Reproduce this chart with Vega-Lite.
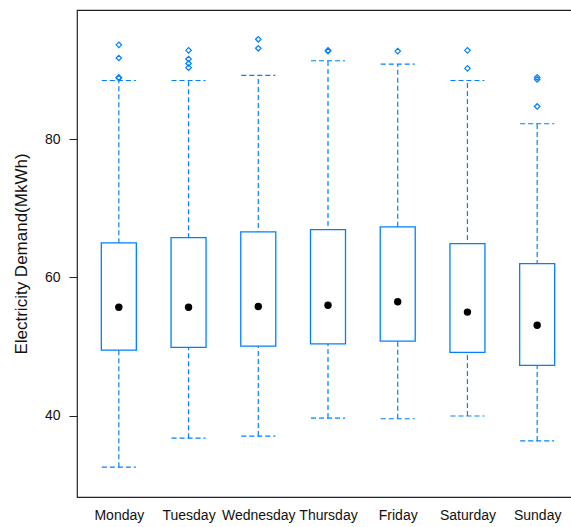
{
  "$schema": "https://vega.github.io/schema/vega-lite/v6.json",
  "autosize": "none",
  "width": 502,
  "height": 487,
  "padding": {"left": 77, "top": 10, "right": 0, "bottom": 30},
  "background": "white",
  "config": {
    "view": {"stroke": "#222", "strokeWidth": 1.2},
    "font": "Liberation Sans"
  },
  "datasets": {
    "stats": [
      {"day": "Monday", "lo": 32.6, "q1": 49.5, "med": 55.7, "q3": 65.0, "hi": 88.45},
      {"day": "Tuesday", "lo": 36.8, "q1": 49.9, "med": 55.7, "q3": 65.75, "hi": 88.45},
      {"day": "Wednesday", "lo": 37.1, "q1": 50.1, "med": 55.8, "q3": 66.6, "hi": 89.2},
      {"day": "Thursday", "lo": 39.7, "q1": 50.4, "med": 56.0, "q3": 66.9, "hi": 91.3},
      {"day": "Friday", "lo": 39.6, "q1": 50.8, "med": 56.5, "q3": 67.3, "hi": 90.8},
      {"day": "Saturday", "lo": 40.0, "q1": 49.2, "med": 55.0, "q3": 64.9, "hi": 88.45},
      {"day": "Sunday", "lo": 36.4, "q1": 47.3, "med": 53.1, "q3": 62.0, "hi": 82.2}
    ],
    "outliers": [
      {"day": "Monday", "v": 93.6},
      {"day": "Monday", "v": 91.7},
      {"day": "Monday", "v": 88.9},
      {"day": "Monday", "v": 88.8},
      {"day": "Tuesday", "v": 92.8},
      {"day": "Tuesday", "v": 91.55},
      {"day": "Tuesday", "v": 90.9},
      {"day": "Tuesday", "v": 90.3},
      {"day": "Wednesday", "v": 94.4},
      {"day": "Wednesday", "v": 93.1},
      {"day": "Thursday", "v": 92.8},
      {"day": "Thursday", "v": 92.7},
      {"day": "Friday", "v": 92.7},
      {"day": "Saturday", "v": 92.8},
      {"day": "Saturday", "v": 90.2},
      {"day": "Sunday", "v": 88.9},
      {"day": "Sunday", "v": 88.6},
      {"day": "Sunday", "v": 84.7}
    ]
  },
  "encoding": {
    "x": {
      "field": "day",
      "type": "nominal",
      "sort": ["Monday", "Tuesday", "Wednesday", "Thursday", "Friday", "Saturday", "Sunday"],
      "scale": {"type": "point", "padding": 0.6},
      "axis": {
        "title": null,
        "domain": false,
        "ticks": false,
        "labelAngle": 0,
        "labelFontSize": 14,
        "labelColor": "#111",
        "labelPadding": 11
      }
    }
  },
  "layer": [
    {
      "data": {"name": "stats"},
      "mark": {"type": "rule", "color": "#0080ff", "strokeDash": [5, 3], "strokeWidth": 1.2},
      "encoding": {
        "y": {
          "field": "lo",
          "type": "quantitative",
          "scale": {"domain": [28.3, 98.63], "nice": false, "zero": false},
          "axis": {
            "title": "Electricity Demand(MkWh)",
            "titleFontSize": 17,
            "titleFontWeight": "normal",
            "titleColor": "#111",
            "titlePadding": 14,
            "values": [40, 60, 80],
            "grid": false,
            "domain": false,
            "tickSize": 8,
            "tickColor": "#222",
            "labelFontSize": 14,
            "labelColor": "#111",
            "labelPadding": 9
          }
        },
        "y2": {"field": "hi"}
      }
    },
    {
      "data": {"name": "stats"},
      "mark": {"type": "rule", "color": "#0080ff", "strokeDash": [5, 3], "strokeWidth": 1.2, "xOffset": -17, "x2Offset": 17},
      "encoding": {
        "x2": {"field": "day"},
        "y": {"field": "lo", "type": "quantitative"}
      }
    },
    {
      "data": {"name": "stats"},
      "mark": {"type": "rule", "color": "#0080ff", "strokeDash": [5, 3], "strokeWidth": 1.2, "xOffset": -17, "x2Offset": 17},
      "encoding": {
        "x2": {"field": "day"},
        "y": {"field": "hi", "type": "quantitative"}
      }
    },
    {
      "data": {"name": "stats"},
      "mark": {"type": "bar", "size": 35, "fill": "white", "stroke": "#0080ff", "strokeWidth": 1.3},
      "encoding": {
        "y": {"field": "q1", "type": "quantitative"},
        "y2": {"field": "q3"}
      }
    },
    {
      "data": {"name": "stats"},
      "mark": {"type": "point", "shape": "circle", "filled": true, "color": "black", "size": 55, "opacity": 1},
      "encoding": {
        "y": {"field": "med", "type": "quantitative"}
      }
    },
    {
      "data": {"name": "outliers"},
      "mark": {"type": "point", "shape": "diamond", "filled": false, "color": "#0080ff", "size": 30, "strokeWidth": 1.2, "opacity": 1},
      "encoding": {
        "y": {"field": "v", "type": "quantitative"}
      }
    }
  ]
}
